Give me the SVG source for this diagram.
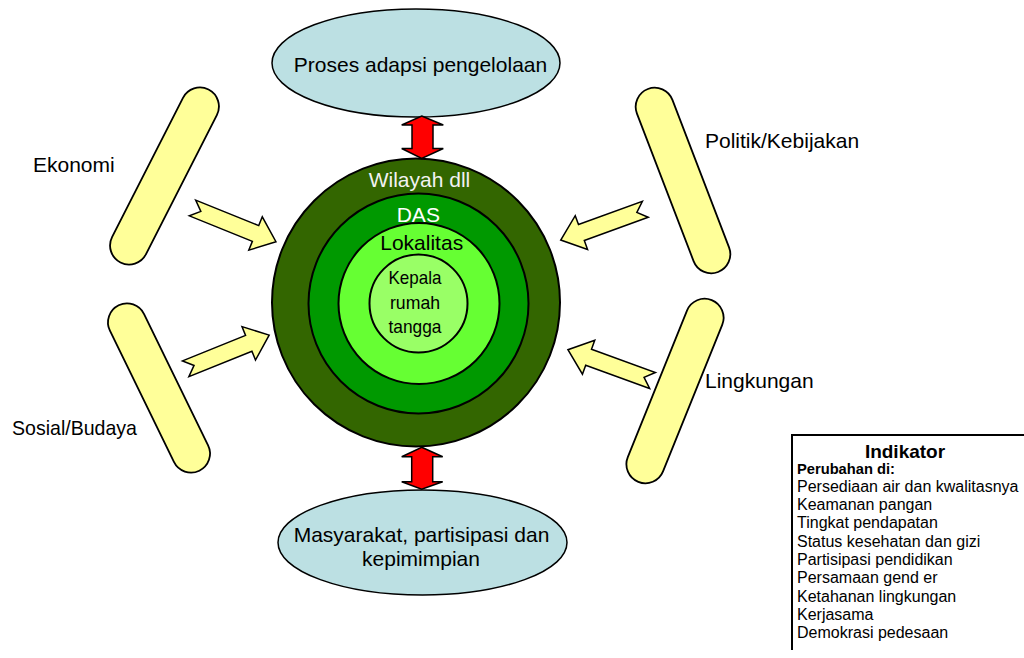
<svg xmlns="http://www.w3.org/2000/svg" width="1024" height="658" viewBox="0 0 1024 658">
<defs>
<style>
text{font-family:"Liberation Sans",Arial,sans-serif;}
.lbl{font-size:21px;fill:#000;}
.mid{text-anchor:middle;}
.ell{fill:#BCE0E3;stroke:#000;stroke-width:1.5;}
.pill{fill:#FFFF99;stroke:#000;stroke-width:1.8;}
.yarr{fill:#FFFF99;stroke:#000;stroke-width:1.5;stroke-linejoin:miter;}
.rarr{fill:#FF0000;stroke:#000;stroke-width:1.5;}
.ring{stroke:#000;stroke-width:2;}
.ind{font-size:16px;fill:#000;}
</style>
<path id="notch" d="M0,-8.5 L68,-8.5 L68,-18 L90,0 L68,18 L68,8.5 L0,8.5 L9,0 Z"/>
</defs>

<g id="labels-left">
<text class="lbl" x="33" y="172">Ekonomi</text>
<text class="lbl" x="12" y="435" textLength="125" lengthAdjust="spacingAndGlyphs">Sosial/Budaya</text>
</g>
<g id="labels-right">
<text class="lbl" x="705" y="148">Politik/Kebijakan</text>
<text class="lbl" x="705" y="388">Lingkungan</text>
</g>

<g id="pill-ekonomi"><rect class="pill" x="-19" y="-97" width="38" height="194" rx="19" transform="translate(164.5,176) rotate(27)"/></g>
<g id="pill-sosial"><rect class="pill" x="-19" y="-92" width="38" height="184" rx="19" transform="translate(159,388) rotate(-26)"/></g>
<g id="pill-politik"><rect class="pill" x="-19" y="-98" width="38" height="196" rx="19" transform="translate(683,180.5) rotate(-21)"/></g>
<g id="pill-lingkungan"><rect class="pill" x="-19" y="-98" width="38" height="196" rx="19" transform="translate(675,391) rotate(22)"/></g>

<g id="node-proses">
<ellipse class="ell" cx="416" cy="63" rx="144" ry="54"/>
<text class="lbl mid" x="420.5" y="71.5">Proses adapsi pengelolaan</text>
</g>

<g id="node-masyarakat">
<ellipse class="ell" cx="422.5" cy="542.5" rx="144.5" ry="52.5"/>
<text class="lbl mid" x="421.5" y="541.5">Masyarakat, partisipasi dan</text>
<text class="lbl mid" x="421" y="566">kepimimpian</text>
</g>

<g id="node-circles">
<g id="ring-wilayah">
<circle class="ring" cx="416" cy="302.5" r="144" fill="#336600"/>
<text class="lbl mid" x="419.5" y="187.3" style="fill:#F2F2F2">Wilayah dll</text>
</g>
<g id="ring-das">
<circle class="ring" cx="418.5" cy="303.5" r="110" fill="#009900"/>
<text class="lbl mid" x="418.3" y="221.7" style="fill:#FFFFFF">DAS</text>
</g>
<g id="ring-lokalitas">
<circle class="ring" cx="419" cy="303.5" r="80.5" fill="#66FF33"/>
<text class="lbl mid" x="421.7" y="250">Lokalitas</text>
</g>
<g id="ring-kepala">
<circle class="ring" cx="418.5" cy="303.5" r="49" fill="#99FF66"/>
<text x="415" y="284.3" text-anchor="middle" font-size="19" textLength="53" lengthAdjust="spacingAndGlyphs">Kepala</text>
<text x="415" y="309" text-anchor="middle" font-size="19" textLength="50" lengthAdjust="spacingAndGlyphs">rumah</text>
<text x="415" y="332.7" text-anchor="middle" font-size="19" textLength="53" lengthAdjust="spacingAndGlyphs">tangga</text>
</g>
</g>

<g id="connectors">
<use href="#notch" class="yarr" transform="translate(192.5,208) rotate(22)"/>
<use href="#notch" class="yarr" transform="translate(185.7,368.8) rotate(-22)"/>
<use href="#notch" class="yarr" transform="translate(645.3,209.3) rotate(160)"/>
<use href="#notch" class="yarr" transform="translate(652.5,380.5) rotate(200)"/>
<path class="rarr" d="M421.7,116 L443.3,125 L433,125 L433,148.5 L443.3,148.5 L421.7,158.5 L401.7,148.5 L412,148.5 L412,125 L401.7,125 Z"/>
<path class="rarr" d="M421.7,447.3 L442.7,456.7 L432.7,456.7 L432.7,481.7 L442.7,481.7 L421.7,489.3 L401.7,481.7 L411.7,481.7 L411.7,456.7 L401.7,456.7 Z"/>
</g>

<g id="node-indikator">
<path d="M1025,435 H792 V650" fill="none" stroke="#000" stroke-width="2"/>
<text x="905" y="458" text-anchor="middle" font-size="19" font-weight="bold">Indikator</text>
<text x="797" y="474" font-size="14.7" font-weight="bold">Perubahan di:</text>
<text class="ind" x="797" y="491.7">Persediaan air dan kwalitasnya</text>
<text class="ind" x="797" y="510">Keamanan pangan</text>
<text class="ind" x="797" y="528.3">Tingkat pendapatan</text>
<text class="ind" x="797" y="546.7">Status kesehatan dan gizi</text>
<text class="ind" x="797" y="565">Partisipasi pendidikan</text>
<text class="ind" x="797" y="583.3">Persamaan gend er</text>
<text class="ind" x="797" y="601.7">Ketahanan lingkungan</text>
<text class="ind" x="797" y="620">Kerjasama</text>
<text class="ind" x="797" y="638.3">Demokrasi pedesaan</text>
</g>
</svg>
